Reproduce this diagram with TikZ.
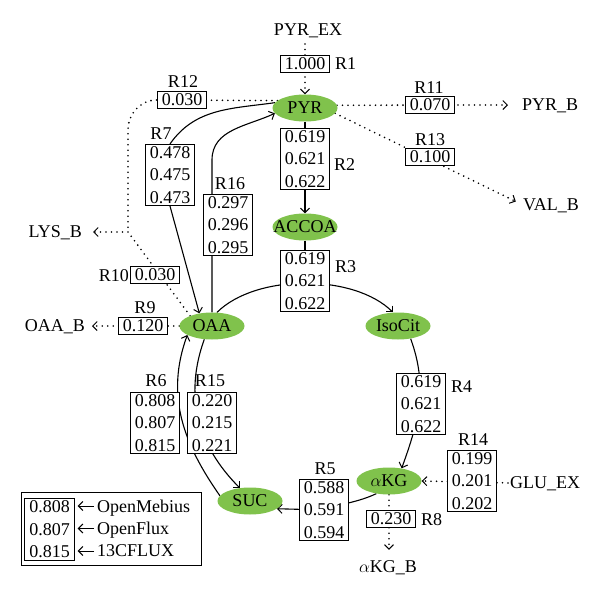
\documentclass[tikz,border=0pt]{standalone}
\usepackage{fontspec}
\setmainfont{Liberation Serif}
\usetikzlibrary{arrows.meta,shapes.geometric,backgrounds}
\definecolor{metgreen}{RGB}{128,194,76}
\begin{document}
\begin{tikzpicture}[x=1pt,y=1pt,
  font=\fontsize{18}{22.5}\selectfont,
  val/.style={draw, fill=white, line width=0.9pt, inner xsep=4.5pt, inner ysep=2pt, align=center},
  met/.style={ellipse, fill=metgreen, minimum width=65pt, minimum height=27pt, inner sep=0pt},
  lbl/.style={inner sep=0pt, text depth=0pt},
  arr/.style={-{Straight Barb[length=4.5pt,width=9pt,line width=1pt]}},
  flux/.style={line width=1.1pt},
  dots/.style={line width=1.8pt, dash pattern=on 0pt off 5.5pt, line cap=round},
]
\useasboundingbox (0,0) rectangle (600,-599);

% metabolites
\node[met] (pyr) at (305,-108) {\makebox[0pt]{PYR}};
\node[met] (accoa) at (305,-227) {\makebox[0pt]{ACCOA}};
\node[met] (oaa) at (212,-326) {\makebox[0pt]{OAA}};
\node[met] (isocit) at (398,-326) {\makebox[0pt]{IsoCit}};
\node[met] (akg) at (389,-481) {\makebox[0pt]{$\alpha$KG}};
\node[met] (suc) at (250,-501) {\makebox[0pt]{SUC}};

% external labels
\node[lbl] (pyrex) at (308,-30) {PYR\_EX};
\node[lbl, anchor=west] (pyrb) at (522,-105) {PYR\_B};
\node[lbl, anchor=west] (valb) at (523,-205) {VAL\_B};
\node[lbl, anchor=east] (lysb) at (82,-232) {LYS\_B};
\node[lbl, anchor=east] (oaab) at (85,-326) {OAA\_B};
\node[lbl, anchor=west] (glu) at (510,-483) {GLU\_EX};
\node[lbl] (akgb) at (388,-567) {$\alpha$KG\_B};

% flux boxes
\node[val] (r1) at (305,-64) {1.000};
\node[lbl, anchor=west] (r1l) at (335,-64) {R1};
\node[val] (r12) at (182,-100) {0.030};
\node[lbl] (r12l) at (183,-82) {R12};
\node[val] (r11) at (430,-105) {0.070};
\node[lbl] (r11l) at (429,-88) {R11};
\node[val] (r13) at (430,-157) {0.100};
\node[lbl] (r13l) at (430,-140) {R13};
\node[val] (r2) at (305,-159) {0.619\\0.621\\0.622};
\node[lbl, anchor=west] (r2l) at (334,-165) {R2};
\node[val] (r7) at (170,-175) {0.478\\0.475\\0.473};
\node[lbl] (r7l) at (161,-134) {R7};
\node[val] (r16) at (228,-225) {0.297\\0.296\\0.295};
\node[lbl] (r16l) at (230,-184) {R16};
\node[val] (r3) at (305,-281) {0.619\\0.621\\0.622};
\node[lbl, anchor=west] (r3l) at (335,-267) {R3};
\node[val] (r10) at (155,-275) {0.030};
\node[lbl, anchor=east] (r10l) at (129,-276) {R10};
\node[val] (r9) at (143,-326) {0.120};
\node[lbl] (r9l) at (145,-308) {R9};
\node[val] (r4) at (421,-404) {0.619\\0.621\\0.622};
\node[lbl, anchor=west] (r4l) at (451,-387) {R4};
\node[val] (r14) at (472,-481) {0.199\\0.201\\0.202};
\node[lbl] (r14l) at (473,-440) {R14};
\node[val] (r8) at (391,-519) {0.230};
\node[lbl, anchor=west] (r8l) at (421,-520) {R8};
\node[val] (r5) at (324,-510) {0.588\\0.591\\0.594};
\node[lbl] (r5l) at (325,-469) {R5};
\node[val] (r6) at (155,-423) {0.808\\0.807\\0.815};
\node[lbl] (r6l) at (156,-381) {R6};
\node[val] (r15) at (212,-423) {0.220\\0.215\\0.221};
\node[lbl] (r15l) at (210,-381) {R15};

% legend
\node[val] (leg) at (49.5,-529.5) {0.808\\0.807\\0.815};
\node[lbl, anchor=west] (lom) at (97,-506) {OpenMebius};
\node[lbl, anchor=west] (lof) at (97,-528.5) {OpenFlux};
\node[lbl, anchor=west] (lcf) at (97,-551) {13CFLUX};
\draw[line width=0.9pt] (21,-492) rectangle (201,-565);
\foreach \n in {lom,lof,lcf}
  \draw[line width=0.8pt, arr, shorten <=3pt, shorten >=3pt] (\n.west) -- (\n.west -| leg.east);

\coordinate (r16bend) at (212,-160);
\coordinate (r12bend) at (128,-130);
\coordinate (lyscorner) at (128,-232);

\begin{scope}[on background layer]
% solid fluxes
\draw[flux,arr] (pyr.south) -- (accoa.north);
\draw[flux] (accoa.south) -- (r3.north);
\draw[flux,arr] (oaa.70) to[out=45,in=135,looseness=0.8] (isocit.110);
\draw[flux,arr] (isocit.-45) to[out=-70,in=70] (akg.45);
\draw[flux] (akg.225) to[out=205,in=20] (r5.center);
\draw[flux,arr] (r5.center) -- (suc.-16);
\draw[flux,arr] (suc.170) to[out=125,in=250] (oaa.200);
\draw[flux,arr] (oaa.240) to[out=250,in=135] (suc.128);
\draw[flux] (pyr.170) to[out=188,in=55] (r7.north);
\draw[flux,arr] (r7.south) -- (oaa.135);
\draw[flux,arr] (oaa.north) -- (r16bend) to[out=90,in=205] (pyr.190);
% dotted fluxes
\draw[dots,arr,shorten <=8pt] (pyr.north |- pyrex.south) -- (pyr.north);
\draw[dots] (pyr.165) -- (r12.west) to[out=180,in=90] (r12bend) -- (lyscorner);
\draw[dots,arr,shorten >=11pt] (lyscorner) -- (lysb.east);
\draw[dots] (oaa.155) -- (lyscorner);
\draw[dots,arr,shorten >=7pt] (oaa.west) -- (oaab.east);
\draw[dots,arr,shorten >=14pt] (pyr.5) -- (pyrb.west);
\draw[dots,arr,shorten >=8pt] (pyr.-10) -- (valb.west);
\draw[dots,arr,shorten <=2pt] (glu.west) -- (akg.east);
\draw[dots,arr,shorten >=11pt] (akg.south) -- (akg.south |- akgb.north);
\end{scope}
\end{tikzpicture}
\end{document}
